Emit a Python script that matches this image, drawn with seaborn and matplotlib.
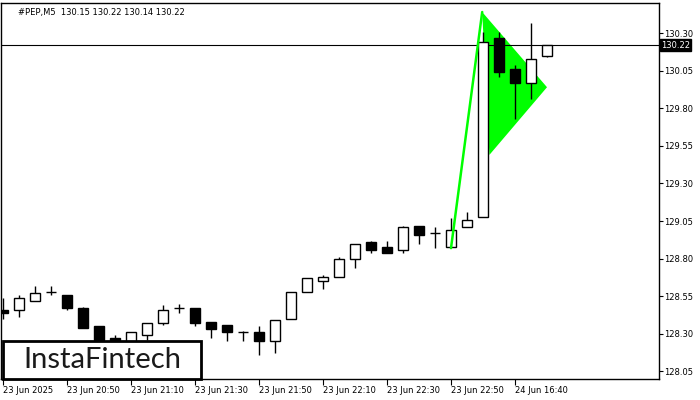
import pandas as pd
import matplotlib
matplotlib.use("Agg")
import matplotlib.pyplot as plt
import matplotlib.patches as mpatches
import seaborn as sns

# candle data
opens  = [128.46, 128.46, 128.52, 128.58, 128.56, 128.47, 128.35, 128.27, 128.24, 128.29,
          128.37, 128.47, 128.47, 128.38, 128.36, 128.31, 128.31, 128.25, 128.40, 128.58,
          128.65, 128.68, 128.80, 128.91, 128.88, 128.86, 129.02, 128.97, 128.88, 129.01,
          129.08, 130.27, 130.06, 129.97, 130.15]
highs  = [128.54, 128.56, 128.62, 128.62, 128.56, 128.48, 128.35, 128.29, 128.31, 128.37,
          128.49, 128.50, 128.47, 128.38, 128.36, 128.32, 128.35, 128.39, 128.58, 128.67,
          128.69, 128.81, 128.90, 128.92, 128.92, 129.02, 129.02, 129.01, 129.07, 129.11,
          130.31, 130.31, 130.09, 130.37, 130.22]
lows   = [128.40, 128.41, 128.52, 128.56, 128.46, 128.34, 128.23, 128.23, 128.22, 128.26,
          128.36, 128.44, 128.35, 128.27, 128.25, 128.25, 128.16, 128.17, 128.40, 128.58,
          128.60, 128.68, 128.74, 128.84, 128.84, 128.84, 128.90, 128.87, 128.88, 129.01,
          129.08, 130.01, 129.73, 129.86, 130.14]
closes = [128.44, 128.54, 128.57, 128.58, 128.47, 128.34, 128.26, 128.26, 128.31, 128.37,
          128.46, 128.47, 128.37, 128.33, 128.31, 128.31, 128.25, 128.39, 128.58, 128.67,
          128.68, 128.80, 128.90, 128.86, 128.84, 129.01, 128.96, 128.97, 128.99, 129.06,
          130.24, 130.04, 129.97, 130.13, 130.22]

tick_pos = [0, 4, 8, 12, 16, 20, 24, 28, 32]
tick_labels = ["23 Jun 2025", "23 Jun 20:50", "23 Jun 21:10", "23 Jun 21:30", "23 Jun 21:50",
               "23 Jun 22:10", "23 Jun 22:30", "23 Jun 22:50", "24 Jun 16:40"]
y_ticks = [128.05, 128.30, 128.55, 128.80, 129.05, 129.30, 129.55, 129.80, 130.05, 130.30]

# bullish pennant: flagpole and flag
pole_x = [28, 29.95]
pole_y = [128.87, 130.44]
flag_x = [29.95, 34, 30.4]
flag_y = [130.44, 129.94, 129.49]
last_price = 130.22

df = pd.DataFrame({"open": opens, "high": highs, "low": lows, "close": closes})
df["i"] = range(len(df))
df["up"] = df["close"] >= df["open"]

sns.set_style("white")
plt.rcParams["font.family"] = ["DejaVu Sans"]

fig = plt.figure(figsize=(7, 4), dpi=100)
ax = fig.add_axes([1 / 700, 21 / 400, 658 / 700, 376 / 400])

# flag (behind candles)
ax.fill(flag_x, flag_y, color="#00ff00", lw=0, zorder=1)

# last price line
ax.axhline(last_price, color="black", lw=0.8, zorder=2)

# candles
ax.vlines(df["i"], df["low"], df["high"], color="black", lw=1, zorder=3)
body_lo = df[["open", "close"]].min(axis=1)
body_h = (df["close"] - df["open"]).abs()
ax.bar(df["i"], body_h, bottom=body_lo, width=0.62,
       color=["white" if u else "black" for u in df["up"]],
       edgecolor="black", lw=1, zorder=4)

# flagpole (on top)
sns.lineplot(x=pole_x, y=pole_y, color="#00ff00", lw=1.8, ax=ax, zorder=5)

ax.set_xlim(-0.125, 41.0)
ax.set_ylim(128.0, 130.5)

ax.yaxis.tick_right()
ax.set_yticks(y_ticks)
ax.set_yticklabels([f"{v:.2f}" for v in y_ticks])
ax.tick_params(axis="y", right=True, direction="out", length=3, width=0.8, pad=1,
               labelsize=6, colors="black")
ax.set_xticks(tick_pos)
ax.set_xticklabels(tick_labels, ha="left")
ax.tick_params(axis="x", bottom=True, direction="out", length=4, width=0.8, pad=1,
               labelsize=6, colors="black")
for s in ax.spines.values():
    s.set_color("black")
    s.set_linewidth(1)

# price tag on the right axis
ax.text(1.003, last_price, f"{last_price:.2f}", transform=ax.get_yaxis_transform(),
        ha="left", va="center", fontsize=6, color="white",
        bbox=dict(boxstyle="square,pad=0.15", fc="black", ec="black"), zorder=10)

# header
fig.text(18 / 700, 1 - 12 / 400, "#PEP,M5  130.15 130.22 130.14 130.22",
         fontsize=6, ha="left", va="center", color="black")

# logo box
fig.patches.append(mpatches.Rectangle((3 / 700, 21 / 400), 198 / 700, 38 / 400,
                                      transform=fig.transFigure, fc="white",
                                      ec="black", lw=2, zorder=20))
fig.text(102 / 700, 1 - 360 / 400, "InstaFintech", fontsize=21, family="Lato",
         ha="center", va="center", color="#1a1a1a", zorder=21)

fig.savefig("out.png", dpi=100)
